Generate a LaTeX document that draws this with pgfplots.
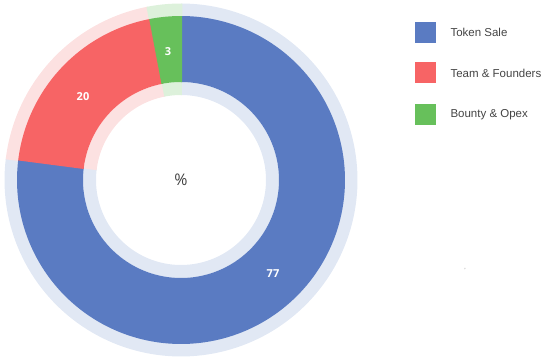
\documentclass[border=0pt]{standalone}
\usepackage{pgfplots}
\pgfplotsset{compat=1.18}
\usepackage{pgfplotstable}
\usepackage{fontspec}
\setmainfont{Liberation Sans}
\newfontfamily\labelfont{Open Sans}
\definecolor{cblue}{HTML}{5A7BC2}
\definecolor{cred}{HTML}{F76465}
\definecolor{cgreen}{HTML}{67C05B}
\definecolor{pblue}{HTML}{E1E8F4}
\definecolor{pred}{HTML}{FCE1E1}
\definecolor{pgreen}{HTML}{DDF1DB}
\definecolor{legtext}{HTML}{444444}

\pgfplotstableread{
name value
Token 77
Team 20
Bounty 3
}\shares

\begin{document}
\begin{tikzpicture}
\pgfplotstablegetelem{0}{value}\of\shares \let\vA\pgfplotsretval
\pgfplotstablegetelem{1}{value}\of\shares \let\vB\pgfplotsretval
\pgfplotstablegetelem{2}{value}\of\shares \let\vC\pgfplotsretval
\pgfmathsetmacro\sA{90}
\pgfmathsetmacro\eA{\sA-3.6*\vA}
\pgfmathsetmacro\eB{\eA-3.6*\vB}
\pgfmathsetmacro\eC{\eB-3.6*\vC}
\pgfmathsetmacro\eAo{\eA+0.5}
\pgfmathsetmacro\eBo{\eB+0.5}
\pgfmathsetmacro\eCo{\eC-0.5}
\begin{axis}[hide axis, x=1pt, y=1pt, xmin=0, xmax=547, ymin=0, ymax=361,
  scale only axis, clip=false]
\path (axis cs:0,0) rectangle (axis cs:547,361);
% pale outer ring
\addplot[pblue, line width=13pt, domain=\eA:\sA, samples=150] ({181+170*cos(x)},{181+170*sin(x)});
\addplot[pred, line width=13pt, domain=\eB:\eAo, samples=50] ({181+170*cos(x)},{181+170*sin(x)});
\addplot[pgreen, line width=13pt, domain=\eCo:\eBo, samples=10] ({181+170*cos(x)},{181+170*sin(x)});
% pale inner ring
\addplot[pblue, line width=13pt, domain=\eA:\sA, samples=150] ({181+91.5*cos(x)},{181+91.5*sin(x)});
\addplot[pred, line width=13pt, domain=\eB:\eAo, samples=50] ({181+91.5*cos(x)},{181+91.5*sin(x)});
\addplot[pgreen, line width=13pt, domain=\eCo:\eBo, samples=10] ({181+91.5*cos(x)},{181+91.5*sin(x)});
% main slices
\addplot[cblue, line width=66pt, domain=\eA:\sA, samples=150] ({181+131*cos(x)},{181+131*sin(x)});
\addplot[cred, line width=66pt, domain=\eB:\eAo, samples=50] ({181+131*cos(x)},{181+131*sin(x)});
\addplot[cgreen, line width=66pt, domain=\eCo:\eBo, samples=10] ({181+131*cos(x)},{181+131*sin(x)});
% labels
\node[white, font=\labelfont\bfseries\fontsize{11}{13}\selectfont] at (axis cs:273,87) {77};
\node[white, font=\labelfont\bfseries\fontsize{11}{13}\selectfont] at (axis cs:83,264) {20};
\node[white, font=\labelfont\bfseries\fontsize{11}{13}\selectfont] at (axis cs:168,309) {3};
\node[black!75, font=\labelfont\fontsize{16}{18}\selectfont] at (axis cs:181,181) {\%};
% legend
\fill[cblue] (axis cs:415,318) rectangle (axis cs:436,339);
\fill[cred] (axis cs:415,277.5) rectangle (axis cs:436,298.5);
\fill[cgreen] (axis cs:415,236) rectangle (axis cs:436,257);
\node[legtext, anchor=west, font=\fontsize{11.5}{13}\selectfont] at (axis cs:447,328.5) {Token Sale};
\node[legtext, anchor=west, font=\fontsize{11.5}{13}\selectfont] at (axis cs:447,288) {Team \& Founders};
\node[legtext, anchor=west, font=\fontsize{11.5}{13}\selectfont] at (axis cs:447,246.5) {Bounty \& Opex};
\node[black!50, font=\fontsize{6}{7}\selectfont] at (axis cs:465,91) {'};
\end{axis}
\end{tikzpicture}
\end{document}
